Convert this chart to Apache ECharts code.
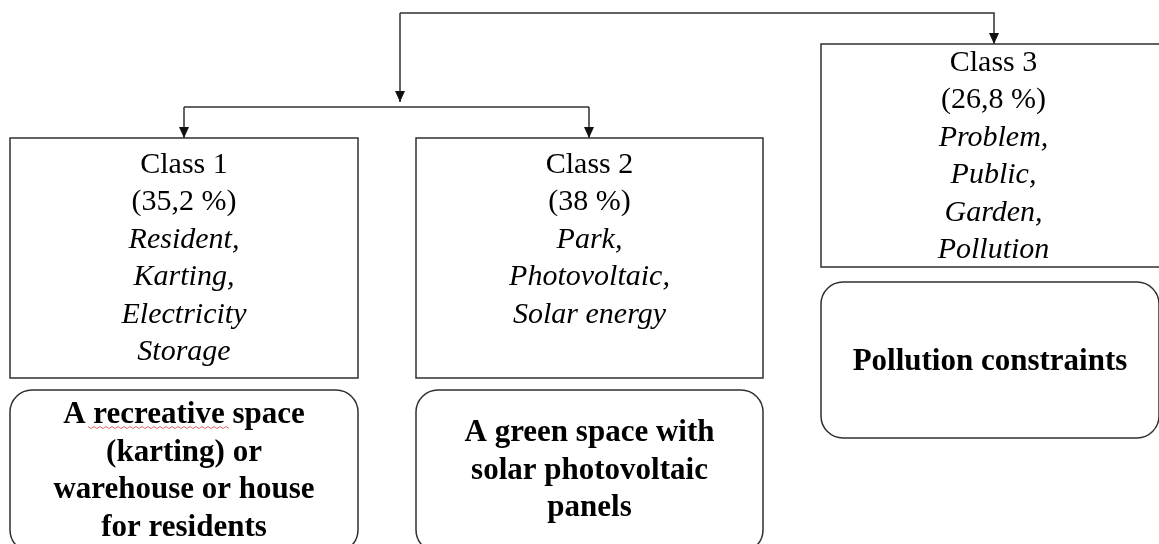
<!DOCTYPE html>
<html>
<head>
<meta charset="UTF-8">
<title>Classes</title>
<style>
    html, body { margin: 0; padding: 0; background: #fff; }
    #main { width: 1159px; height: 544px; }
</style>
</head>
<body>
<div id="main"></div>
<script src="https://cdn.jsdelivr.net/npm/echarts@6/dist/echarts.min.js"></script>
<script>
// content of the boxes
var classNames = ['Class 1', 'Class 2', 'Class 3'];
var classShares = ['35,2 %', '38 %', '26,8 %'];
var classKeywords = [
    ['Resident,', 'Karting,', 'Electricity', 'Storage'],
    ['Park,', 'Photovoltaic,', 'Solar energy'],
    ['Problem,', 'Public,', 'Garden,', 'Pollution']
];
var classOutcomes = [
    ['A recreative space', '(karting) or', 'warehouse or house', 'for residents'],
    ['A green space with', 'solar photovoltaic', 'panels'],
    ['Pollution constraints']
];

// layout, in pixels of the hidden axes (x 0..1159, y 0..544 top-down)
var classBoxes = [[10, 138, 358, 378], [416, 138, 763, 378], [821, 44, 1166, 267]];
var classFirstLine = [165, 165, 63];
var outcomeBoxes = [[10, 390, 358, 552], [416, 390, 763, 552], [821, 282, 1159, 438]];
var outcomeFirstLine = [415, 433, 362];
var links = [
    [[400, 13], [994, 13], [994, 44]],
    [[400, 13], [400, 102]],
    [[184, 107], [589, 107]],
    [[184, 107], [184, 138]],
    [[589, 107], [589, 138]]
];
var linkArrow = [true, true, false, true, true];

var LINE = '#303030';
var SERIF = '"Liberation Serif", "Times New Roman", serif';
var FS = 30, FSB = 31, LH = 37.5;

function renderLink(params, api) {
    var i = params.dataIndex;
    var pts = links[i].map(function (p) { return api.coord(p); });
    var children = [{
        type: 'polyline',
        shape: { points: pts },
        style: { stroke: LINE, lineWidth: 1.5, fill: null }
    }];
    if (linkArrow[i]) {
        var tip = pts[pts.length - 1];
        children.push({
            type: 'polygon',
            shape: { points: [[tip[0] - 5, tip[1] - 11], [tip[0] + 5, tip[1] - 11], [tip[0], tip[1]]] },
            style: { fill: '#111' }
        });
    }
    return { type: 'group', children: children };
}

function renderClass(params, api) {
    var i = params.dataIndex;
    var p0 = api.coord([api.value(0), api.value(1)]);
    var p1 = api.coord([api.value(2), api.value(3)]);
    var lines = ['{n|' + classNames[i] + '}', '{n|(' + classShares[i] + ')}'];
    classKeywords[i].forEach(function (k) { lines.push('{i|' + k + '}'); });
    var ty = api.coord([0, classFirstLine[i]])[1] - LH / 2;
    return { type: 'group', children: [
        { type: 'rect',
          shape: { x: p0[0], y: p0[1], width: p1[0] - p0[0], height: p1[1] - p0[1] },
          style: { fill: '#fff', stroke: LINE, lineWidth: 1.5 } },
        { type: 'text', x: (p0[0] + p1[0]) / 2, y: ty,
          style: {
              text: lines.join('\n'), align: 'center', verticalAlign: 'top',
              rich: {
                  n: { fontFamily: SERIF, fontSize: FS, lineHeight: LH, fill: '#000' },
                  i: { fontFamily: SERIF, fontSize: FS, lineHeight: LH, fill: '#000', fontStyle: 'italic' }
              }
          } }
    ]};
}

function renderOutcome(params, api) {
    var i = params.dataIndex;
    var p0 = api.coord([api.value(0), api.value(1)]);
    var p1 = api.coord([api.value(2), api.value(3)]);
    var cx = (p0[0] + p1[0]) / 2;
    var ty = api.coord([0, outcomeFirstLine[i]])[1] - LH / 2;
    var children = [
        { type: 'rect',
          shape: { x: p0[0], y: p0[1], width: p1[0] - p0[0], height: p1[1] - p0[1], r: 22 },
          style: { fill: '#fff', stroke: LINE, lineWidth: 1.5 } },
        { type: 'text', x: cx, y: ty,
          style: {
              text: classOutcomes[i].join('\n'), align: 'center', verticalAlign: 'top',
              fontFamily: SERIF, fontSize: FSB, fontWeight: 'bold', lineHeight: LH, fill: '#000'
          } }
    ];
    if (i === 0) {
        // spell-check squiggle under "recreative"
        var wave = [], x0 = cx - 96, y0 = ty + LH / 2 + 12;
        for (var k = 0; k <= 47; k++) wave.push([x0 + k * 3, y0 + (k % 2 ? 1.5 : -0.5)]);
        children.push({ type: 'polyline', shape: { points: wave },
            style: { stroke: '#e0585a', lineWidth: 0.9, fill: null } });
    }
    return { type: 'group', children: children };
}

var chart = echarts.init(document.getElementById('main'));
chart.setOption({
    backgroundColor: '#fff',
    animation: false,
    grid: { left: 0, right: 0, top: 0, bottom: 0 },
    xAxis: { type: 'value', min: 0, max: 1159, show: false },
    yAxis: { type: 'value', min: 0, max: 544, inverse: true, show: false },
    series: [
        { type: 'custom', renderItem: renderLink, clip: false,
          data: links.map(function (l) { return l[0]; }) },
        { type: 'custom', renderItem: renderClass, clip: true,
          encode: { x: [0, 2], y: [1, 3] }, data: classBoxes },
        { type: 'custom', renderItem: renderOutcome, clip: true,
          encode: { x: [0, 2], y: [1, 3] }, data: outcomeBoxes }
    ]
});
</script>
</body>
</html>
